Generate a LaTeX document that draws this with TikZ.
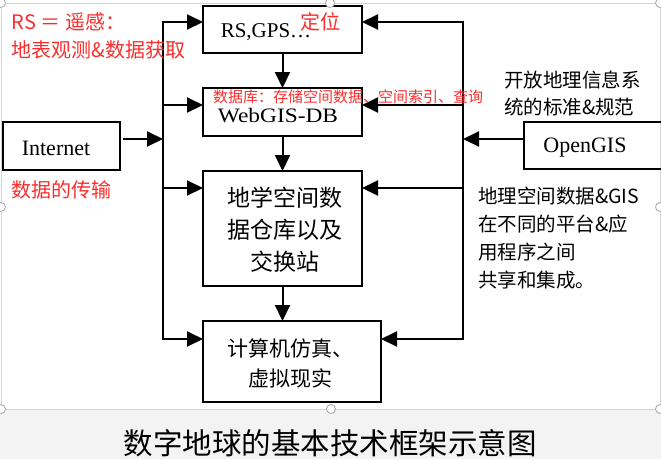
\documentclass[tikz,border=0pt]{standalone}
\usepackage{fontspec}
\usepackage{graphicx}
\setmainfont{Liberation Serif}
\newfontfamily\cjk{Noto Sans CJK SC}
\usetikzlibrary{arrows.meta}
\definecolor{redtxt}{RGB}{250,45,45}
\definecolor{framec}{RGB}{212,212,212}
\definecolor{capbg}{RGB}{243,243,243}
\begin{document}
\begin{tikzpicture}[x=1pt,y=-1pt,
  every node/.style={inner sep=0pt, outer sep=0pt},
  box/.style={draw, line width=2pt},
  conn/.style={line width=2pt},
  arr/.style={conn, -{Triangle[length=16pt,width=15pt]}},
  redlbl/.style={text=redtxt, font=\cjk\fontsize{20}{20}\selectfont, anchor=west},
  blklbl/.style={text=black, font=\cjk\fontsize{19.5}{19.5}\selectfont, anchor=west},
  serif/.style={font=\fontsize{21}{21}\selectfont},
  handle/.style={draw=black!35, fill=white, line width=0.8pt, circle, minimum size=9pt}
]
\useasboundingbox (0,0) rectangle (661,459);
\clip (0,0) rectangle (661,459);
\fill[capbg] (0,409) rectangle (661,459);
\draw[framec, line width=1pt] (1,3) rectangle (660,409);

% boxes
\node[box, minimum width=159pt, minimum height=47pt] (gps) at (282.5,29.5) {};
\node[serif] (gpst) at (266,32) {RS,GPS…};
\node[box, minimum width=159pt, minimum height=48pt] (db) at (282.5,112) {};
\node[font=\fontsize{20.5}{20.5}\selectfont] (dbt) at (278,116) {\scalebox{1.14}[1]{WebGIS-DB}};
\node[box, minimum width=159pt, minimum height=115pt] (wh) at (282.5,228.5) {};
\node[font=\cjk\fontsize{23}{32}\selectfont, align=center] (wht) at (285,230) {地学空间数\\据仓库以及\\交换站};
\node[box, minimum width=178pt, minimum height=81pt] (sim) at (292,361.5) {};
\node[font=\cjk\fontsize{21}{30}\selectfont, align=center] (simt) at (290,363) {计算机仿真、\\虚拟现实};
\node[box, minimum width=117pt, minimum height=48pt] (inet) at (61.5,146) {};
\node[font=\fontsize{22}{22}\selectfont] (inett) at (56,148) {Internet};
\node[box, minimum width=146pt, minimum height=47pt] (ogis) at (597,145.5) {};
\node[font=\fontsize{22}{22}\selectfont] (ogist) at (585,148) {OpenGIS};

% bus coordinates
\coordinate (Lt) at (163,22);
\coordinate (L2) at (163,105);
\coordinate (Li) at (163,139);
\coordinate (L3) at (163,188);
\coordinate (Lb) at (163,339);
\coordinate (Rt) at (463,22);
\coordinate (R2) at (463,105);
\coordinate (Ri) at (463,139);
\coordinate (R3) at (463,188);
\coordinate (Rb) at (463,339);

% left bus
\draw[arr] (Lb) -- (Lt) -- (Lt -| gps.west);
\draw[arr] (Lt) -- (Lb) -- (Lb -| sim.west);
\draw[arr] (L2) -- (L2 -| db.west);
\draw[arr] (L3) -- (L3 -| wh.west);
\draw[arr, shorten <=3pt] (inet.east |- Li) -- (Li);
% right bus
\draw[arr] (Rb) -- (Rt) -- (Rt -| gps.east);
\draw[arr] (Rt) -- (Rb) -- (Rb -| sim.east);
\draw[arr] (R2) -- (R2 -| db.east);
\draw[arr] (R3) -- (R3 -| wh.east);
\draw[arr] (ogis.west |- Ri) -- (Ri);
% vertical chain
\draw[arr] (gps.south) -- (db.north);
\draw[arr] (db.south) -- (wh.north);
\draw[arr] (wh.south) -- (wh.south |- sim.north);

% red annotations
\node[redlbl] (rs1) at (12,22) {RS ＝ 遥感：};
\node[redlbl] (rs2) at (12,50) {地表观测\&数据获取};
\node[redlbl] (dw) at (300,22) {定位};
\node[redlbl] (tr) at (12,190) {数据的传输};
\node[redlbl, font=\cjk\fontsize{15}{15}\selectfont] (dbn) at (213,97) {数据库：存储空间数据、空间索引、查询};

% black annotations
\node[blklbl] (k1) at (504,80) {开放地理信息系};
\node[blklbl] (k2) at (504,107) {统的标准\&规范};
\node[blklbl] (s1) at (478,196) {地理空间数据\&GIS};
\node[blklbl] (s2) at (478,224) {在不同的平台\&应};
\node[blklbl] (s3) at (478,252) {用程序之间};
\node[blklbl] (s4) at (478,280) {共享和集成。};

% caption
\node[font=\cjk\fontsize{29.5}{29.5}\selectfont] (cap) at (330,443) {数字地球的基本技术框架示意图};

% selection handles
\node[handle] (h1) at (1,3) {};
\node[handle] (h2) at (330,3) {};
\node[handle] (h3) at (660,3) {};
\node[handle] (h4) at (1,207) {};
\node[handle] (h5) at (660,207) {};
\node[handle] (h6) at (1,409) {};
\node[handle] (h7) at (331,409) {};
\node[handle] (h8) at (660,409) {};
\end{tikzpicture}
\end{document}
